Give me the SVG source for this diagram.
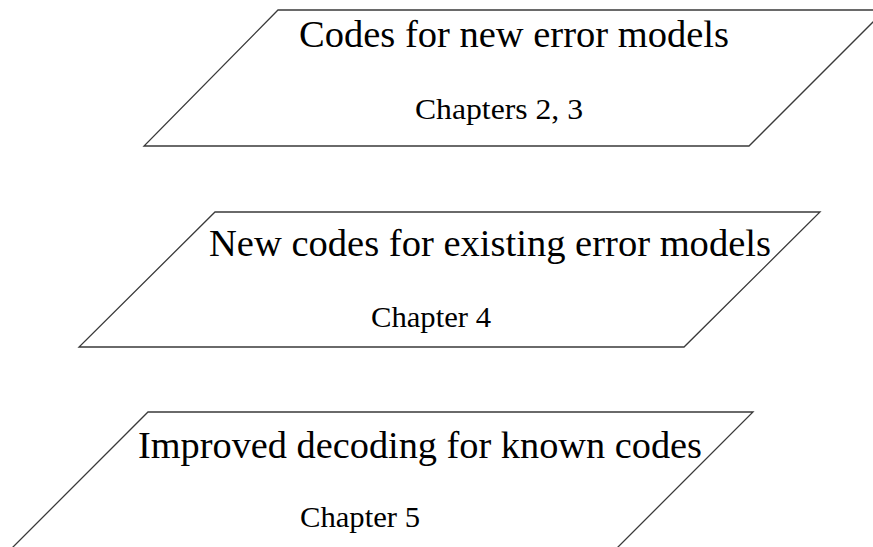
<svg xmlns="http://www.w3.org/2000/svg" width="873" height="547" viewBox="0 0 873 547">
<style>
.shape{fill:#ffffff;stroke:#3a3a3a;stroke-width:1.3}
.title{font-family:"Liberation Serif","Times New Roman",serif;font-size:38px;fill:#000;text-anchor:middle}
.sub{font-family:"Liberation Serif","Times New Roman",serif;font-size:30px;fill:#000;text-anchor:middle}
</style>
<rect width="873" height="547" fill="#ffffff"/>
<g id="node1">
<polygon class="shape" points="278,10 885,10 749,146 144,146"/>
<text class="title" x="514" y="47" textLength="430" lengthAdjust="spacingAndGlyphs">Codes for new error models</text>
<text class="sub" x="499" y="119" textLength="168" lengthAdjust="spacingAndGlyphs">Chapters 2, 3</text>
</g>
<g id="node2">
<polygon class="shape" points="215,212 820,212 684,347 79,347"/>
<text class="title" x="490" y="256" textLength="562" lengthAdjust="spacingAndGlyphs">New codes for existing error models</text>
<text class="sub" x="431" y="327" textLength="120" lengthAdjust="spacingAndGlyphs">Chapter 4</text>
</g>
<g id="node3">
<polygon class="shape" points="148,412 753,412 617,548 12,548"/>
<text class="title" x="420" y="458" textLength="564" lengthAdjust="spacingAndGlyphs">Improved decoding for known codes</text>
<text class="sub" x="360" y="527" textLength="120" lengthAdjust="spacingAndGlyphs">Chapter 5</text>
</g>
<g id="connectors"></g>
</svg>
